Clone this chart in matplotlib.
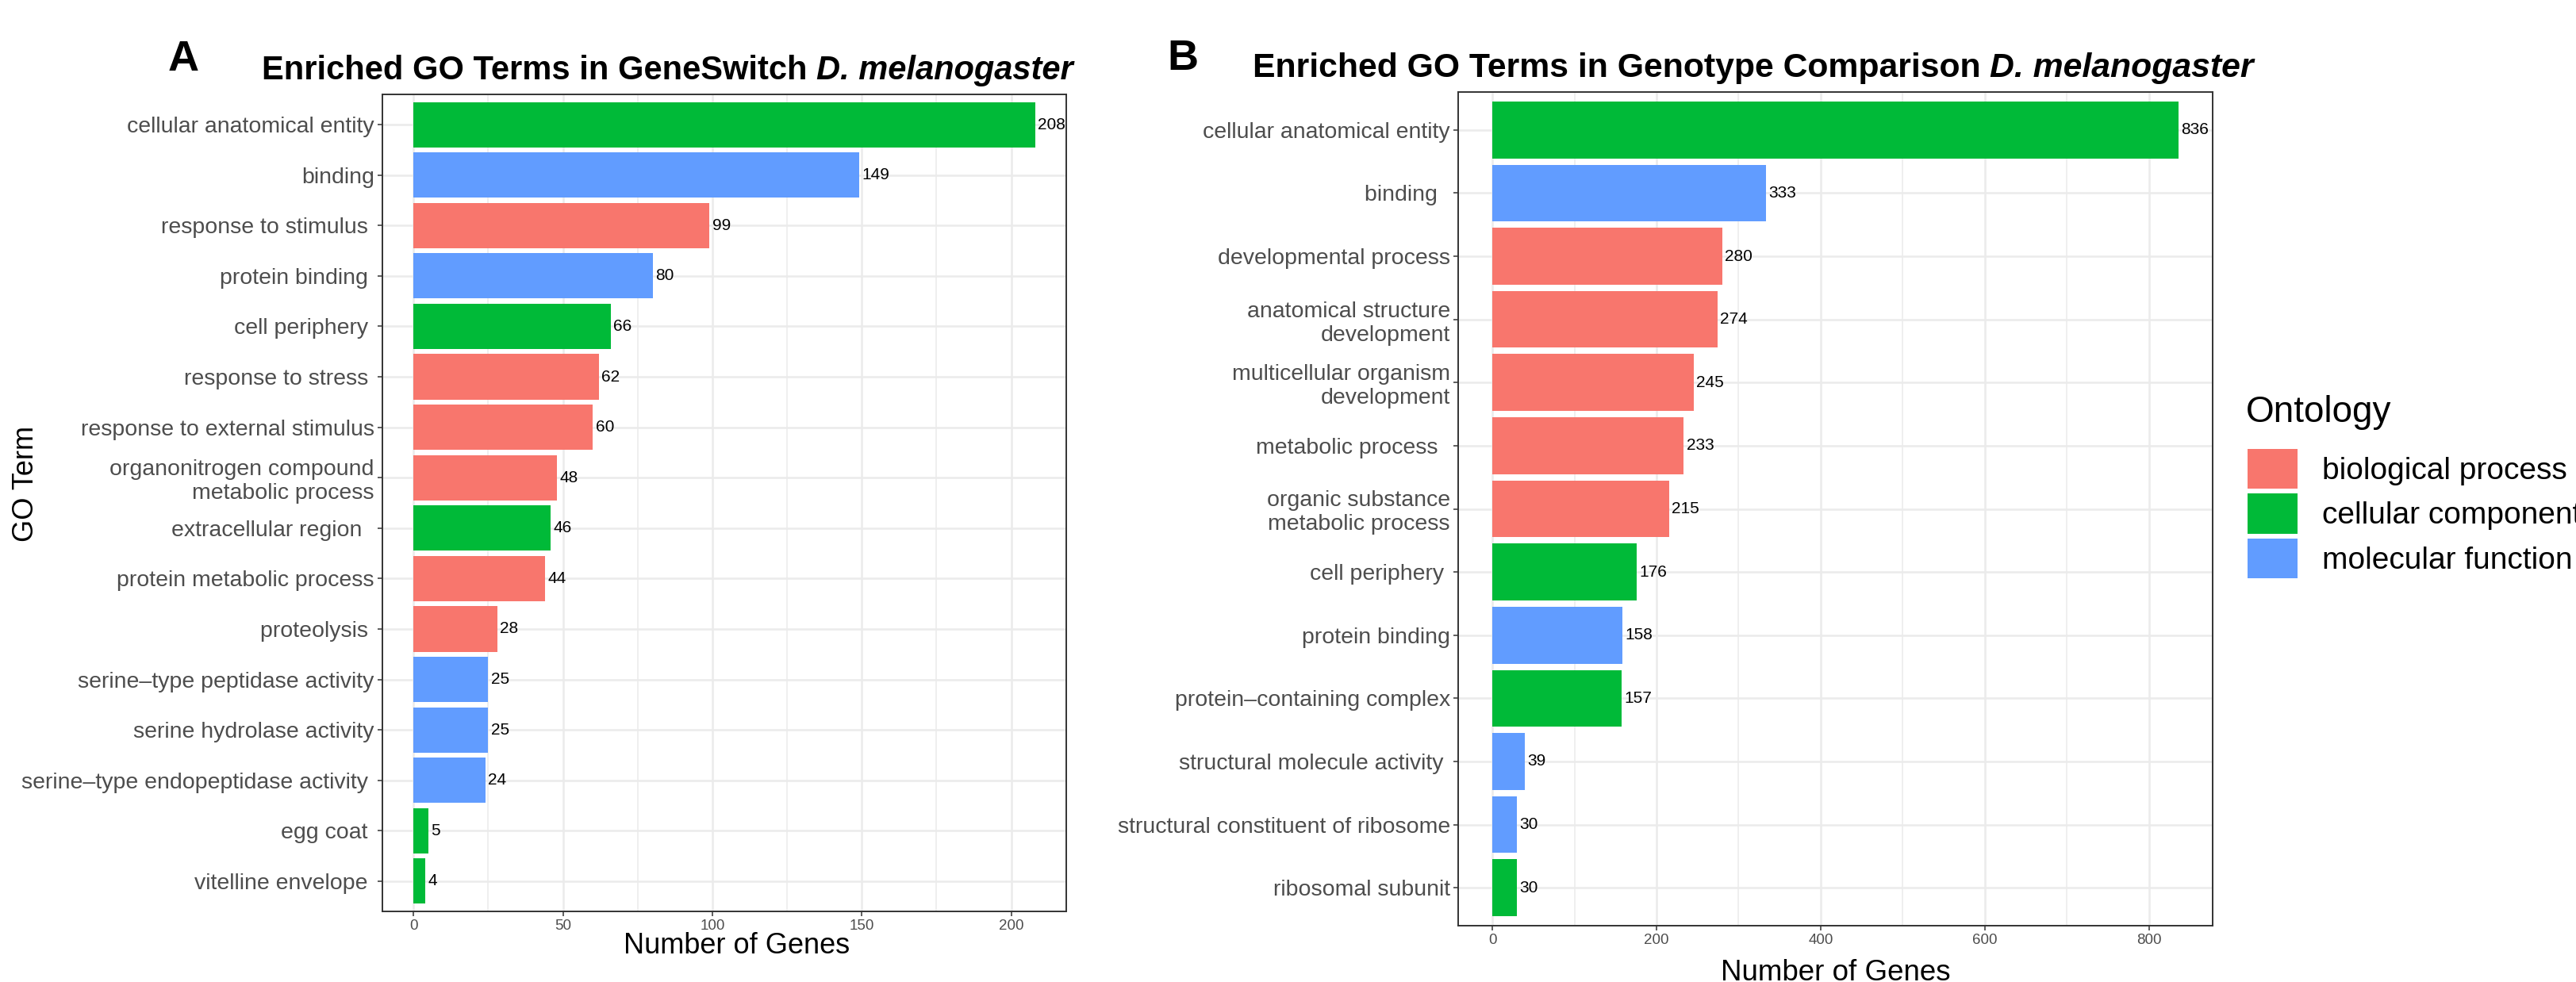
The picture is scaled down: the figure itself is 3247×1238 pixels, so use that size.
import matplotlib
matplotlib.use("Agg")
import matplotlib.pyplot as plt
from matplotlib.patches import Patch
import numpy as np

plt.rcParams['font.family'] = ['Liberation Sans', 'DejaVu Sans']

ONTOLOGY_COLORS = {
    "biological process": "#F8766D",
    "cellular component": "#00BA38",
    "molecular function": "#619CFF",
}

# GeneSwitch enrichment
gs_terms = [
    "cellular anatomical entity", "binding", "response to stimulus ", "protein binding ",
    "cell periphery ", "response to stress ", "response to external stimulus",
    "organonitrogen compound\nmetabolic process", "extracellular region  ",
    "protein metabolic process", "proteolysis ", "serine\u2013type peptidase activity",
    "serine hydrolase activity", "serine\u2013type endopeptidase activity ", "egg coat ",
    "vitelline envelope ",
]
gs_counts = [208, 149, 99, 80, 66, 62, 60, 48, 46, 44, 28, 25, 25, 24, 5, 4]
gs_ontology = [
    "cellular component", "molecular function", "biological process", "molecular function",
    "cellular component", "biological process", "biological process", "biological process",
    "cellular component", "biological process", "biological process", "molecular function",
    "molecular function", "molecular function", "cellular component", "cellular component",
]

# genotype comparison enrichment
gc_terms = [
    "cellular anatomical entity", "binding  ", "developmental process",
    "anatomical structure\ndevelopment", "multicellular organism\ndevelopment",
    "metabolic process  ", "organic substance\nmetabolic process", "cell periphery ",
    "protein binding", "protein\u2013containing complex", "structural molecule activity ",
    "structural constituent of ribosome", "ribosomal subunit",
]
gc_counts = [836, 333, 280, 274, 245, 233, 215, 176, 158, 157, 39, 30, 30]
gc_ontology = [
    "cellular component", "molecular function", "biological process", "biological process",
    "biological process", "biological process", "biological process", "cellular component",
    "molecular function", "cellular component", "molecular function", "molecular function",
    "cellular component",
]

W, H = 3248, 1238
fig = plt.figure(figsize=(W / 100, H / 100), dpi=100)


def px_box(left, top, right, bottom):
    return [left / W, 1 - bottom / H, (right - left) / W, (bottom - top) / H]


def draw_panel(ax, terms, counts, ontology, major, minor):
    n = len(terms)
    y = np.arange(n)
    colors = [ONTOLOGY_COLORS[o] for o in ontology]
    bars = ax.barh(y, counts, height=0.9, color=colors, zorder=3)
    ax.bar_label(bars, labels=[str(c) for c in counts], padding=2.5, fontsize=15, color="black")
    ax.set_yticks(y, terms)
    ax.set_ylim(n - 0.4, -0.6)
    top = max(counts)
    ax.set_xlim(-0.05 * top, 1.05 * top)
    ax.set_xticks(major)
    ax.set_xticks(minor, minor=True)
    ax.grid(axis="x", which="major", color="#EBEBEB", linewidth=1.8, zorder=0)
    ax.grid(axis="x", which="minor", color="#EBEBEB", linewidth=1.1, zorder=0)
    ax.grid(axis="y", which="major", color="#EBEBEB", linewidth=1.8, zorder=0)
    ax.set_axisbelow(True)
    ax.tick_params(axis="y", which="major", labelsize=20.5, labelcolor="#4D4D4D",
                   length=4.3, width=1.1, color="#333333", pad=3)
    ax.tick_params(axis="x", which="major", labelsize=13.5, labelcolor="#4D4D4D",
                   length=4.3, width=1.1, color="#333333", pad=3)
    ax.tick_params(axis="x", which="minor", length=0)
    for s in ax.spines.values():
        s.set_color("#333333")
        s.set_linewidth(1.4)


ax_a = fig.add_axes(px_box(482, 119, 1344, 1149))
draw_panel(ax_a, gs_terms, gs_counts, gs_ontology, [0, 50, 100, 150, 200], [25, 75, 125, 175])

ax_b = fig.add_axes(px_box(1838, 116, 2789, 1167))
draw_panel(ax_b, gc_terms, gc_counts, gc_ontology, [0, 200, 400, 600, 800], [100, 300, 500, 700])

# titles: bold with an italic species name appended
for x0, y0, size, text in [(330, 100, 30, "Enriched GO Terms in GeneSwitch "),
                           (1579, 97, 30.8, "Enriched GO Terms in Genotype Comparison ")]:
    t = fig.text(x0 / W, 1 - y0 / H, text, fontsize=size, fontweight="bold", va="baseline")
    fig.add_artist(plt.Annotation("D. melanogaster", xy=(1, 0), xycoords=t, fontsize=size,
                                  fontweight="bold", fontstyle="italic", va="bottom", ha="left"))

fig.text(212 / W, 1 - 89 / H, "A", fontsize=39, fontweight="bold", va="baseline")
fig.text(1471 / W, 1 - 88 / H, "B", fontsize=39, fontweight="bold", va="baseline")

fig.text(929 / W, 1 - 1202 / H, "Number of Genes", fontsize=26, ha="center", va="baseline")
fig.text(2314 / W, 1 - 1236 / H, "Number of Genes", fontsize=26.5, ha="center", va="baseline")
fig.text(33 / W, 1 - 610 / H, "GO Term", fontsize=26, rotation=90, ha="center", va="center")

# legend: title placed separately so the gap under it can be set
fig.text(2831 / W, 1 - 520 / H, "Ontology", fontsize=33, ha="left", va="center")
handles = [Patch(facecolor=c, edgecolor="none") for c in ONTOLOGY_COLORS.values()]
fig.legend(handles, list(ONTOLOGY_COLORS.keys()), loc="upper left",
           bbox_to_anchor=(2833 / W, 1 - 566 / H), frameon=False, fontsize=28,
           handlelength=1.62, handleheight=1.62, handletextpad=0.8,
           labelspacing=0.15, borderpad=0, borderaxespad=0)

fig.savefig("out.png", dpi=100)
